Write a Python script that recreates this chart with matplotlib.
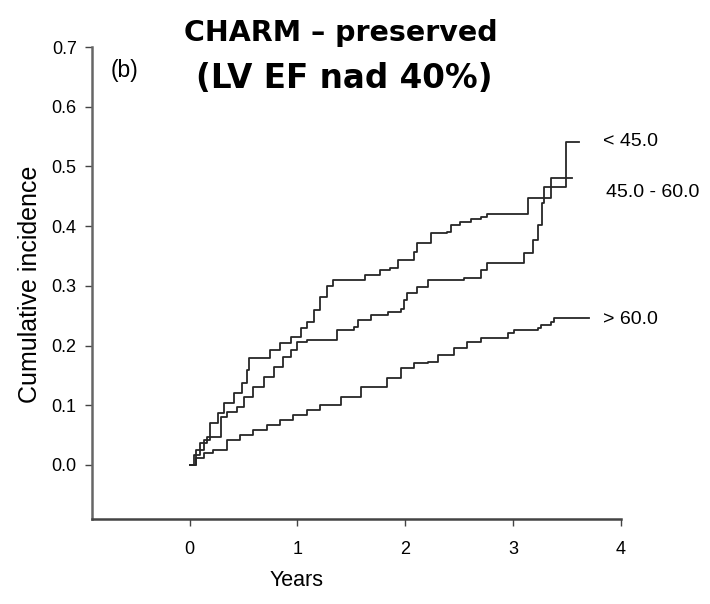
import matplotlib
matplotlib.use("Agg")
import matplotlib.pyplot as plt

# ---- data ----
years_lt45 = [0.00, 0.06, 0.13, 0.19, 0.26, 0.32, 0.41, 0.49, 0.53, 0.55, 0.68, 0.75, 0.84, 0.94,
              1.03, 1.09, 1.15, 1.21, 1.27, 1.33, 1.63, 1.68, 1.77, 1.86, 1.93, 2.08, 2.11, 2.24,
              2.39, 2.42, 2.51, 2.61, 2.70, 2.76, 3.14, 3.35, 3.55]
inc_lt45 = [0.000, 0.025, 0.042, 0.070, 0.087, 0.104, 0.120, 0.137, 0.159, 0.179, 0.179, 0.193,
            0.204, 0.214, 0.229, 0.240, 0.260, 0.281, 0.300, 0.310, 0.318, 0.318, 0.327, 0.330,
            0.343, 0.357, 0.372, 0.389, 0.390, 0.402, 0.407, 0.412, 0.415, 0.420, 0.447, 0.481,
            0.481]

years_45_60 = [0.00, 0.04, 0.10, 0.16, 0.26, 0.29, 0.35, 0.44, 0.50, 0.59, 0.69, 0.78, 0.87, 0.94,
               1.00, 1.09, 1.34, 1.37, 1.52, 1.56, 1.68, 1.84, 1.96, 1.99, 2.02, 2.11, 2.21, 2.51,
               2.54, 2.70, 2.76, 3.10, 3.18, 3.23, 3.27, 3.29, 3.49, 3.61]
inc_45_60 = [0.000, 0.017, 0.037, 0.047, 0.047, 0.080, 0.089, 0.097, 0.114, 0.131, 0.147, 0.164,
             0.181, 0.193, 0.206, 0.209, 0.209, 0.226, 0.231, 0.243, 0.251, 0.256, 0.262, 0.276,
             0.288, 0.298, 0.310, 0.310, 0.313, 0.327, 0.338, 0.355, 0.377, 0.402, 0.438, 0.466,
             0.541, 0.541]

years_gt60 = [0.00, 0.06, 0.13, 0.22, 0.35, 0.47, 0.59, 0.72, 0.84, 0.96, 1.09, 1.21, 1.40, 1.59,
              1.83, 1.96, 2.08, 2.21, 2.30, 2.45, 2.57, 2.70, 2.95, 3.01, 3.23, 3.26, 3.35, 3.38,
              3.70]
inc_gt60 = [0.000, 0.012, 0.020, 0.025, 0.042, 0.050, 0.059, 0.067, 0.075, 0.084, 0.092, 0.100,
            0.114, 0.131, 0.146, 0.162, 0.171, 0.173, 0.184, 0.196, 0.206, 0.212, 0.221, 0.226,
            0.229, 0.234, 0.240, 0.246, 0.246]

series_labels = ["< 45.0", "45.0 - 60.0", "> 60.0"]
x_ticks = [0, 1, 2, 3, 4]
y_ticks = [0.0, 0.1, 0.2, 0.3, 0.4, 0.5, 0.6, 0.7]

W, H = 710, 604
fig = plt.figure(figsize=(W / 100, H / 100), dpi=100)
fig.patch.set_facecolor("white")

narrow = ["Liberation Sans", "DejaVu Sans"]

ax = fig.add_axes([92 / W, 1 - 519 / H, (621 - 92) / W, (519 - 47) / H])
line_color = "#262626"
for xs, ys in [(years_lt45, inc_lt45), (years_45_60, inc_45_60), (years_gt60, inc_gt60)]:
    ax.plot(xs, ys, drawstyle="steps-post", color=line_color, lw=1.3)

ax.set_xlim(-0.905, 4.0)
ax.set_ylim(-0.0905, 0.70)
ax.set_xticks(x_ticks)
ax.set_xticklabels([str(t) for t in x_ticks], family=narrow, fontsize=13)
ax.set_yticks(y_ticks)
ax.set_yticklabels([f"{t:.1f}" for t in y_ticks], family=narrow, fontsize=13)
ax.tick_params(axis="y", direction="out", length=5, width=1, color="#444444", pad=6)
ax.tick_params(axis="x", direction="out", length=5, width=1, color="#444444", pad=11)
for s in ["top", "right"]:
    ax.spines[s].set_visible(False)
ax.spines["left"].set_color("#666666")
ax.spines["left"].set_linewidth(1.8)
ax.spines["bottom"].set_color("#444444")
ax.spines["bottom"].set_linewidth(1.8)

fig.text(30 / W, 1 - 284 / H, "Cumulative incidence", family=narrow, fontsize=18,
         rotation=90, va="center", ha="center")
fig.text(297 / W, 1 - 580 / H, "Years", family=narrow, fontsize=15.5, va="center", ha="center")

# series labels at the ends of the curves
fig.text(603 / W, 1 - 141 / H, series_labels[0], family=narrow, fontsize=14, va="center", ha="left")
fig.text(606 / W, 1 - 192 / H, series_labels[1], family=narrow, fontsize=14, va="center", ha="left")
fig.text(603 / W, 1 - 320 / H, series_labels[2], family=narrow, fontsize=14, va="center", ha="left")

fig.text(125 / W, 1 - 71 / H, "(b)", family=narrow, fontsize=16.5, va="center", ha="center")

fig.text(341 / W, 1 - 41 / H, "CHARM – preserved", fontsize=20.5, fontweight="bold",
         family="DejaVu Sans", ha="center", va="baseline")
fig.text(344 / W, 1 - 88 / H, "(LV EF nad 40%)", fontsize=23.5, fontweight="bold",
         family="DejaVu Sans", ha="center", va="baseline")

fig.savefig("out.png", dpi=100)
